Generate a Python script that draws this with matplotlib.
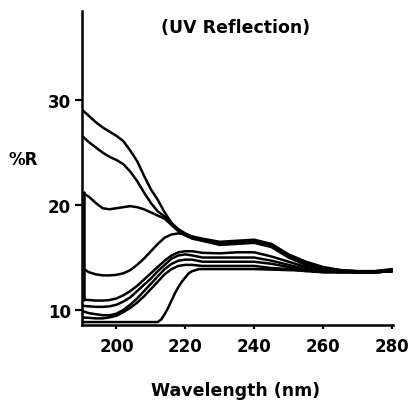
import numpy as np
import matplotlib
matplotlib.use("Agg")
import matplotlib.pyplot as plt

# UV reflection spectra (wavelength nm, %R)
wl_tail = [225, 230, 235, 240, 245, 250, 255, 260, 265, 270, 275, 280]
wl_left = [190, 192, 194, 196, 198, 200, 202, 204, 206, 208, 210, 212, 214, 216, 218, 220, 222]
wl_std = wl_left + wl_tail

r_a = [29.1, 28.5, 27.9, 27.4, 27.0, 26.6, 26.1, 25.2, 24.2, 22.8, 21.5, 20.5, 19.3, 18.3, 17.7, 17.3, 17.0,
       16.7, 16.4, 16.5, 16.6, 16.2, 15.2, 14.5, 14.0, 13.8, 13.7, 13.7, 13.8]
r_b = [26.6, 26.0, 25.5, 25.0, 24.6, 24.3, 23.9, 23.2, 22.3, 21.2, 20.2, 19.4, 18.9, 18.2, 17.6, 17.2, 16.9,
       16.6, 16.3, 16.4, 16.5, 16.1, 15.1, 14.4, 13.9, 13.7, 13.6, 13.6, 13.7]
r_c = [21.2, 20.8, 20.2, 19.7, 19.6, 19.7, 19.8, 19.9, 19.8, 19.6, 19.3, 19.0, 18.7, 18.1, 17.5, 17.1, 16.8,
       16.6, 16.2, 16.3, 16.4, 16.0, 15.0, 14.3, 13.9, 13.7, 13.6, 13.6, 13.7]
r_d = [14.0, 13.6, 13.4, 13.3, 13.3, 13.35, 13.5, 13.8, 14.3, 14.9, 15.6, 16.3, 16.9, 17.2, 17.3, 17.2, 17.0,
       16.8, 16.5, 16.6, 16.7, 16.3, 15.3, 14.6, 14.1, 13.8, 13.7, 13.7, 13.9]
r_e = [11.0, 10.95, 10.9, 10.9, 10.95, 11.1, 11.4, 11.8, 12.3, 12.9, 13.5, 14.1, 14.7, 15.2, 15.5, 15.6, 15.6,
       15.45, 15.4, 15.5, 15.5, 15.1, 14.6, 14.1, 13.8, 13.7, 13.6, 13.6, 13.7]
r_f = [10.4, 10.35, 10.3, 10.3, 10.35, 10.5, 10.8, 11.2, 11.8, 12.4, 13.0, 13.7, 14.3, 14.9, 15.2, 15.3, 15.2,
       15.0, 15.0, 15.0, 15.0, 14.7, 14.3, 13.9, 13.7, 13.6, 13.6, 13.6, 13.7]
r_g = [9.9, 9.7, 9.6, 9.5, 9.5, 9.65, 10.0, 10.5, 11.1, 11.8, 12.5, 13.2, 13.9, 14.4, 14.7, 14.8, 14.8,
       14.6, 14.6, 14.6, 14.6, 14.4, 14.1, 13.8, 13.6, 13.6, 13.6, 13.6, 13.7]
r_h = [9.3, 9.25, 9.2, 9.2, 9.3, 9.45, 9.8, 10.2, 10.7, 11.3, 12.0, 12.7, 13.4, 13.9, 14.2, 14.3, 14.3,
       14.2, 14.2, 14.2, 14.2, 14.0, 13.9, 13.7, 13.6, 13.6, 13.6, 13.6, 13.7]

wl_i = [190, 200, 212, 213, 214, 215, 216, 217, 218, 219, 220, 221, 222, 224, 230, 240, 250, 260, 270, 280]
r_i = [8.85, 8.85, 8.85, 9.1, 9.6, 10.2, 10.9, 11.6, 12.2, 12.7, 13.1, 13.5, 13.7, 13.9, 13.9, 13.9, 13.8, 13.7, 13.6, 13.7]

# pen stroke at the start of the scans
wl_v = [190.5, 190.5]
r_v = [21.2, 11.0]

curves = [(wl_std, r_a), (wl_std, r_b), (wl_std, r_c), (wl_std, r_d), (wl_std, r_e),
          (wl_std, r_f), (wl_std, r_g), (wl_std, r_h), (wl_i, r_i), (wl_v, r_v)]

plt.rcParams['font.family'] = ['DejaVu Sans']
plt.rcParams['font.weight'] = 'bold'

fig = plt.figure(figsize=(4.1, 4.02), dpi=100)
ax = fig.add_axes([82 / 410, 1 - 326 / 402, (393 - 82) / 410, (326 - 12) / 402])

for wl, r in curves:
    ax.plot(wl, r, color='black', lw=1.8, solid_capstyle='round', solid_joinstyle='round')

ax.set_xlim(190, 280.3)
ax.set_ylim(8.57, 38.5)

ax.spines['top'].set_visible(False)
ax.spines['right'].set_visible(False)
ax.spines['left'].set_linewidth(1.8)
ax.spines['bottom'].set_linewidth(1.8)

ax.set_xticks([200, 220, 240, 260, 280])
ax.set_yticks([10, 20, 30])
ax.tick_params(axis='y', direction='out', length=5, width=1.6, pad=3, labelsize=12)
ax.tick_params(axis='x', direction='out', length=3, width=1.6, pad=6, labelsize=12)
for lab in ax.get_xticklabels() + ax.get_yticklabels():
    lab.set_fontweight('bold')

fig.text(236 / 410, 1 - 28 / 402, '(UV Reflection)', ha='center', va='center',
         fontsize=12.5, fontweight='bold')
fig.text(23 / 410, 1 - 160 / 402, '%R', ha='center', va='center',
         fontsize=12, fontweight='bold')
fig.text(236 / 410, 1 - 391 / 402, 'Wavelength (nm)', ha='center', va='center',
         fontsize=12.5, fontweight='bold')

fig.savefig('out.png', dpi=100, facecolor='white')
